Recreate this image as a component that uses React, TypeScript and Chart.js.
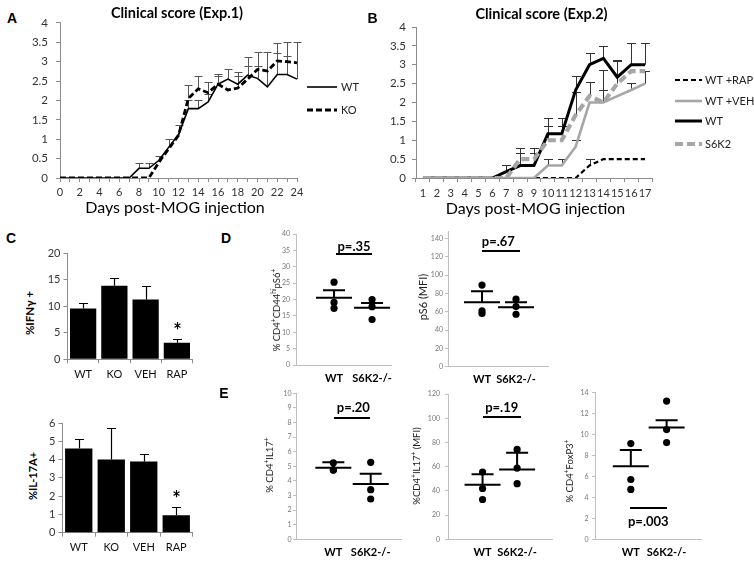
import React, { useEffect, useRef } from 'react';
import { Chart, registerables } from 'chart.js';
Chart.register(...registerables);

const FONT = 'Lato, "Open Sans", sans-serif';
Chart.defaults.font.family = FONT;

// ---------- Panel A: Clinical score (Exp.1) ----------
const daysA = ['0','1','2','3','4','5','6','7','8','9','10','11','12','13','14','15','16','17','18','19','20','21','22','23','24'];
const wtA = [0,0,0,0,0,0,0,0,0.25,0.25,0.45,0.79,1.12,1.79,1.79,1.96,2.42,2.55,2.42,2.65,2.57,2.35,2.67,2.67,2.55];
const koA = [0,0,0,0,0,0,0,0,0,0,0.4,0.75,1.1,2.05,2.3,2.2,2.42,2.27,2.32,2.55,2.8,2.76,3.02,3.0,2.97];
const wtErrA = [0,0,0,0,0,0,0,0,0.13,0.13,0.13,0.21,0.25,0.23,0.23,0.21,0.25,0.25,0.21,0.25,0.31,0.9,0.82,0.85,0.95];
const koErrA = [0,0,0,0,0,0,0,0,0,0,0,0,0,0.36,0.33,0.28,0.22,0,0.41,0.56,0.46,0,0.2,0.15,0];

// ---------- Panel B: Clinical score (Exp.2) ----------
const daysB = ['1','2','3','4','5','6','7','8','9','10','11','12','13','14','15','16','17'];
const rapB = [0,0,0,0,0,0,0,0,0,0,0,0,0.33,0.5,0.5,0.5,0.5];
const vehB = [0,0,0,0,0,0,0,0,0,0.33,0.33,0.83,2.0,2.0,2.17,2.33,2.5];
const wtB = [0,0,0,0,0,0,0.17,0.33,0.33,1.17,1.17,2.33,3.0,3.17,2.67,3.0,3.0];
const s6k2B = [0,0,0,0,0,0,0,0.5,0.5,1.0,1.0,1.67,2.17,2.0,2.5,2.83,2.83];
const rapErrB = [0,0,0,0,0,0,0,0,0,0,0,0,0.17,0,0,0,0];
const vehErrB = [0,0,0,0,0,0,0,0,0,0.17,0.17,0.17,0,0.32,0,0.19,0.33];
const wtErrB = [0,0,0,0,0,0,0.17,0.33,0.33,0.42,0.42,0.37,0.31,0.33,0.46,0.58,0.58];
const s6k2ErrB = [0,0,0,0,0,0,0,0.29,0.29,0.37,0.37,0.6,0.38,0.87,0.6,0,0];

// ---------- Panel C: bars ----------
const cCats = ['WT','KO','VEH','RAP'];
const ifng = [9.6, 13.9, 11.3, 3.1];
const ifngErr = [1.1, 1.5, 2.6, 0.7];
const il17 = [4.6, 4.0, 3.9, 0.95];
const il17Err = [0.55, 1.7, 0.4, 0.45];
const starred = [false, false, false, true];

// ---------- Panels D / E: dot plots ----------
const groups = ['WT', 'S6K2-/-'];
const d1Wt = [25.3, 19.1, 17.3];
const d1Ko = [20.0, 17.8, 13.9];
const d1Mean = [20.5, 17.5];
const d1Sem = [2.3, 1.4];
const d2Wt = [89, 61, 58];
const d2Ko = [73.6, 65.6, 57.2];
const d2Mean = [70.4, 64.9];
const d2Sem = [12, 5.5];
const e1Wt = [5.24, 4.74, 4.75];
const e1Ko = [5.27, 3.4, 2.76];
const e1Mean = [4.9, 3.79];
const e1Sem = [0.38, 0.7];
const e2Wt = [55.6, 42, 32.9];
const e2Ko = [74.3, 58.9, 46];
const e2Mean = [45.2, 57.8];
const e2Sem = [8.5, 13.8];
const e3Wt = [9.14, 5.71, 4.76];
const e3Ko = [13.2, 10.48, 9.24];
const e3Mean = [6.98, 10.67];
const e3Sem = [1.55, 0.69];

type Rect = { L: number; T: number; W: number; H: number };
type Plot = { l: number; t: number; r: number; b: number };

function lay(c: Rect, p: Plot) {
  return {
    padding: { top: p.t - c.T, right: c.L + c.W - p.r, left: 0, bottom: 0 },
    yW: p.l - c.L,
    xH: c.T + c.H - p.b,
  };
}

const plainNum = (v: any) => String(Math.round(Number(v) * 1000) / 1000);

function errorBars(sets: { i: number; err: number[]; color: string; cap: number; width: number }[], before: boolean, stars?: boolean[]) {
  const draw = (chart: any) => {
    const ctx = chart.ctx;
    const y = chart.scales.y;
    sets.forEach((s) => {
      const meta = chart.getDatasetMeta(s.i);
      const data = chart.data.datasets[s.i].data as number[];
      ctx.save();
      ctx.strokeStyle = s.color;
      ctx.lineWidth = s.width;
      meta.data.forEach((el: any, j: number) => {
        const e = s.err[j];
        if (!e) return;
        const x = Math.round(el.x) + 0.5;
        const y0 = y.getPixelForValue(data[j]);
        const y1 = Math.round(y.getPixelForValue(data[j] + e)) + 0.5;
        ctx.beginPath();
        ctx.moveTo(x, y0);
        ctx.lineTo(x, y1);
        ctx.moveTo(x - s.cap, y1);
        ctx.lineTo(x + s.cap, y1);
        ctx.stroke();
        if (stars && stars[j]) {
          ctx.fillStyle = '#000';
          ctx.font = 'bold 20px ' + FONT;
          ctx.textAlign = 'center';
          ctx.textBaseline = 'middle';
          ctx.fillText('*', x, y1 - 8);
        }
      });
      ctx.restore();
    });
  };
  return before
    ? { id: 'errorBars', beforeDatasetsDraw: draw }
    : { id: 'errorBars', afterDatasetsDraw: draw };
}

function sideLegend(items: { i: number; y: number }[], x0: number, x1: number, tx: number) {
  return {
    id: 'sideLegend',
    afterDraw(chart: any) {
      const ctx = chart.ctx;
      items.forEach((it) => {
        const ds = chart.data.datasets[it.i];
        ctx.save();
        ctx.strokeStyle = ds.borderColor;
        ctx.lineWidth = ds.borderWidth;
        ctx.setLineDash(ds.borderDash || []);
        ctx.beginPath();
        ctx.moveTo(x0, it.y);
        ctx.lineTo(x1, it.y);
        ctx.stroke();
        ctx.setLineDash([]);
        ctx.fillStyle = '#222';
        ctx.font = '11px ' + FONT;
        ctx.textBaseline = 'middle';
        ctx.fillText(ds.label, tx, it.y);
        ctx.restore();
      });
    },
  };
}

function meanSem(means: number[], sems: number[]) {
  return {
    id: 'meanSem',
    afterDatasetsDraw(chart: any) {
      const { ctx } = chart;
      const x = chart.scales.x;
      const y = chart.scales.y;
      ctx.save();
      ctx.strokeStyle = '#000';
      ctx.lineWidth = 2;
      means.forEach((m, i) => {
        const cx = x.getPixelForValue(i + 1);
        const ym = y.getPixelForValue(m);
        const ys = y.getPixelForValue(m + sems[i]);
        ctx.beginPath();
        ctx.moveTo(cx - 18, ym);
        ctx.lineTo(cx + 18, ym);
        ctx.moveTo(cx, ym);
        ctx.lineTo(cx, ys);
        ctx.moveTo(cx - 11, ys);
        ctx.lineTo(cx + 11, ys);
        ctx.stroke();
      });
      ctx.restore();
    },
  };
}

const baseOpts = (L: any) => ({
  responsive: false,
  animation: false,
  layout: { padding: L.padding },
  plugins: { legend: { display: false }, tooltip: { enabled: false }, title: { display: false } },
});

// ---------- rects ----------
const rA: Rect = { L: 20, T: 8, W: 360, H: 192 };
const pA: Plot = { l: 60, t: 19, r: 297, b: 178 };
const rB: Rect = { L: 380, T: 10, W: 374, H: 190 };
const pB: Plot = { l: 416, t: 27, r: 652, b: 178 };
const rC1: Rect = { L: 40, T: 243, W: 160, H: 142 };
const pC1: Plot = { l: 67.5, t: 253.3, r: 192.5, b: 359.3 };
const rC2: Rect = { L: 40, T: 413, W: 160, H: 150 };
const pC2: Plot = { l: 62.5, t: 423, r: 192.5, b: 532.7 };
const rD1: Rect = { L: 270, T: 226, W: 130, H: 164 };
const pD1: Plot = { l: 296, t: 234, r: 393, b: 365 };
const rD2: Rect = { L: 420, T: 222, W: 135, H: 170 };
const pD2: Plot = { l: 448, t: 231, r: 548, b: 366.7 };
const rE1: Rect = { L: 270, T: 385, W: 140, H: 178 };
const pE1: Plot = { l: 296, t: 393.3, r: 401.7, b: 539.3 };
const rE2: Rect = { L: 420, T: 385, W: 140, H: 178 };
const pE2: Plot = { l: 448, t: 393.5, r: 552.7, b: 539.3 };
const rE3: Rect = { L: 570, T: 385, W: 140, H: 178 };
const pE3: Plot = { l: 595, t: 392.3, r: 701.7, b: 539.3 };

const AX = '#8c8c8c';
const TICK = '#333';

function configA() {
  const L = lay(rA, pA);
  return {
    type: 'line',
    data: {
      labels: daysA,
      datasets: [
        { label: 'WT', data: wtA, borderColor: '#000', borderWidth: 1.6, pointRadius: 0, order: 1 },
        { label: 'KO', data: koA, borderColor: '#000', borderWidth: 2.8, borderDash: [6, 3], pointRadius: 0, order: 0 },
      ],
    },
    options: {
      ...baseOpts(L),
      scales: {
        x: {
          type: 'category', offset: false,
          grid: { drawOnChartArea: false, tickLength: 4, color: AX, offset: false },
          border: { color: AX },
          ticks: { autoSkip: false, maxRotation: 0, padding: 4, color: TICK, font: { size: 11 }, callback: (_v: any, i: number) => (i % 2 === 0 ? daysA[i] : '') },
          afterFit: (s: any) => { s.height = L.xH; },
        },
        y: {
          min: 0, max: 4,
          ticks: { stepSize: 0.5, padding: 8, color: TICK, font: { size: 11.5 }, callback: plainNum },
          grid: { drawOnChartArea: false, tickLength: 4, color: AX },
          border: { color: AX },
          afterFit: (s: any) => { s.width = L.yW; },
        },
      },
    },
    plugins: [
      errorBars([
        { i: 0, err: wtErrA, color: '#555', cap: 4, width: 1 },
        { i: 1, err: koErrA, color: '#555', cap: 4, width: 1 },
      ], true),
      sideLegend([{ i: 0, y: 87 - rA.T }, { i: 1, y: 110 - rA.T }], 307 - rA.L, 337 - rA.L, 341 - rA.L),
    ],
  };
}

function configB() {
  const L = lay(rB, pB);
  return {
    type: 'line',
    data: {
      labels: daysB,
      datasets: [
        { label: 'WT +RAP', data: rapB, borderColor: '#000', borderWidth: 2.2, borderDash: [5, 3], pointRadius: 0, order: 3 },
        { label: 'WT +VEH', data: vehB, borderColor: '#a6a6a6', borderWidth: 2.6, pointRadius: 0, order: 1 },
        { label: 'WT', data: wtB, borderColor: '#000', borderWidth: 3, pointRadius: 0, order: 2 },
        { label: 'S6K2', data: s6k2B, borderColor: '#a6a6a6', borderWidth: 4.2, borderDash: [8, 4], pointRadius: 0, order: 0 },
      ],
    },
    options: {
      ...baseOpts(L),
      scales: {
        x: {
          type: 'category', offset: true,
          grid: { drawOnChartArea: false, tickLength: 4, color: AX, offset: true },
          border: { color: AX },
          ticks: { autoSkip: false, maxRotation: 0, padding: 5, color: TICK, font: { size: 11 } },
          afterFit: (s: any) => { s.height = L.xH; },
        },
        y: {
          min: 0, max: 4,
          ticks: { stepSize: 0.5, padding: 6, color: TICK, font: { size: 11.5 }, callback: plainNum },
          grid: { drawOnChartArea: false, tickLength: 4, color: AX },
          border: { color: AX },
          afterFit: (s: any) => { s.width = L.yW; },
        },
      },
    },
    plugins: [
      errorBars([
        { i: 0, err: rapErrB, color: '#333', cap: 4.5, width: 1 },
        { i: 1, err: vehErrB, color: '#333', cap: 4.5, width: 1 },
        { i: 2, err: wtErrB, color: '#333', cap: 4.5, width: 1 },
        { i: 3, err: s6k2ErrB, color: '#333', cap: 4.5, width: 1 },
      ], true),
      sideLegend(
        [{ i: 0, y: 80 - rB.T }, { i: 1, y: 101 - rB.T }, { i: 2, y: 121 - rB.T }, { i: 3, y: 144 - rB.T }],
        675 - rB.L, 702 - rB.L, 705 - rB.L
      ),
    ],
  };
}

function configBar(r: Rect, p: Plot, values: number[], errs: number[], max: number, step: number, xPad: number) {
  const L = lay(r, p);
  return {
    type: 'bar',
    data: {
      labels: cCats,
      datasets: [{ data: values, backgroundColor: '#000', barPercentage: 0.84, categoryPercentage: 1.0 }],
    },
    options: {
      ...baseOpts(L),
      scales: {
        x: {
          grid: { drawOnChartArea: false, tickLength: 4, color: AX, offset: true },
          border: { color: AX },
          ticks: { autoSkip: false, maxRotation: 0, padding: xPad, color: '#111', font: { size: 11 } },
          afterFit: (s: any) => { s.height = L.xH; },
        },
        y: {
          min: 0, max,
          ticks: { stepSize: step, padding: 3, color: '#333', font: { size: 11 }, callback: plainNum },
          grid: { drawOnChartArea: false, tickLength: 4, color: AX },
          border: { color: AX },
          afterFit: (s: any) => { s.width = L.yW; },
        },
      },
    },
    plugins: [errorBars([{ i: 0, err: errs, color: '#000', cap: 4.5, width: 1.2 }], false, starred)],
  };
}

function configDot(r: Rect, p: Plot, wt: number[], ko: number[], means: number[], sems: number[], yMax: number, yStep: number, xMax: number, xPad: number, yPad: number) {
  const L = lay(r, p);
  return {
    type: 'scatter',
    data: {
      datasets: [
        { data: wt.map((v) => ({ x: 1, y: v })), backgroundColor: '#000', borderColor: '#000', borderWidth: 0, pointRadius: 3.6 },
        { data: ko.map((v) => ({ x: 2, y: v })), backgroundColor: '#000', borderColor: '#000', borderWidth: 0, pointRadius: 3.6 },
      ],
    },
    options: {
      ...baseOpts(L),
      scales: {
        x: {
          type: 'linear', min: 0, max: xMax,
          afterBuildTicks: (s: any) => { s.ticks = groups.map((_g, i) => ({ value: i + 1 })); },
          ticks: { autoSkip: false, maxRotation: 0, padding: xPad, color: '#000', font: { size: 11, weight: 'bold' }, callback: (_v: any, i: number) => groups[i] },
          grid: { display: false, drawTicks: false },
          border: { color: '#bfbfbf' },
          afterFit: (s: any) => { s.height = L.xH; },
        },
        y: {
          min: 0, max: yMax,
          ticks: { stepSize: yStep, includeBounds: false, padding: yPad, color: '#777', font: { size: 7 }, callback: plainNum },
          grid: { drawOnChartArea: false, tickLength: 3, color: '#bfbfbf' },
          border: { color: '#bfbfbf' },
          afterFit: (s: any) => { s.width = L.yW; },
        },
      },
    },
    plugins: [meanSem(means, sems)],
  };
}

function ChartCanvas({ rect, make }: { rect: Rect; make: () => any }) {
  const ref = useRef<HTMLCanvasElement>(null);
  useEffect(() => {
    const chart = new Chart(ref.current as HTMLCanvasElement, make());
    return () => chart.destroy();
  }, []);
  return (
    <canvas
      ref={ref}
      width={rect.W}
      height={rect.H}
      style={{ position: 'absolute', left: rect.L, top: rect.T, width: rect.W, height: rect.H }}
    />
  );
}

function Txt({ x, y, size, bold, rot, font, color, children }: any) {
  return (
    <div
      style={{
        position: 'absolute', left: x, top: y,
        transform: `translate(-50%,-50%)${rot ? ' rotate(-90deg)' : ''}`,
        fontSize: size, fontWeight: bold ? 700 : 400, fontFamily: font || FONT,
        color: color || '#000', whiteSpace: 'nowrap', lineHeight: 1,
      }}
    >
      {children}
    </div>
  );
}

function HLine({ x0, x1, y, h }: any) {
  return <div style={{ position: 'absolute', left: x0, top: y - (h || 2) / 2, width: x1 - x0, height: h || 2, background: '#000' }} />;
}

const LETTER = '"Liberation Sans", Arial, sans-serif';
const supS = { fontSize: '0.7em', verticalAlign: 'super', lineHeight: 0 } as any;

export default function App() {
  return (
    <div style={{ position: 'fixed', left: 0, top: 0, width: 754, height: 566, background: '#fff', overflow: 'hidden' }}>
      <ChartCanvas rect={rA} make={configA} />
      <ChartCanvas rect={rB} make={configB} />
      <ChartCanvas rect={rC1} make={() => configBar(rC1, pC1, ifng, ifngErr, 20, 5, 4.4)} />
      <ChartCanvas rect={rC2} make={() => configBar(rC2, pC2, il17, il17Err, 6, 1, 3.7)} />
      <ChartCanvas rect={rD1} make={() => configDot(rD1, pD1, d1Wt, d1Ko, d1Mean, d1Sem, 40, 5, 2.5, 6.7, 3)} />
      <ChartCanvas rect={rD2} make={() => configDot(rD2, pD2, d2Wt, d2Ko, d2Mean, d2Sem, 148, 20, 2.94, 5.7, 2)} />
      <ChartCanvas rect={rE1} make={() => configDot(rE1, pE1, e1Wt, e1Ko, e1Mean, e1Sem, 10, 1, 2.83, 7, 1.5)} />
      <ChartCanvas rect={rE2} make={() => configDot(rE2, pE2, e2Wt, e2Ko, e2Mean, e2Sem, 120, 20, 3.03, 7, 5)} />
      <ChartCanvas rect={rE3} make={() => configDot(rE3, pE3, e3Wt, e3Ko, e3Mean, e3Sem, 14, 2, 2.98, 6.8, 3.5)} />

      {/* Panel letters */}
      <Txt x={12} y={18} size={14} bold font={LETTER}>A</Txt>
      <Txt x={372.5} y={18} size={14} bold font={LETTER}>B</Txt>
      <Txt x={11} y={238} size={14} bold font={LETTER}>C</Txt>
      <Txt x={226} y={238} size={14} bold font={LETTER}>D</Txt>
      <Txt x={224} y={393} size={14} bold font={LETTER}>E</Txt>

      {/* Titles */}
      <Txt x={177} y={13} size={14.5} bold>Clinical score (Exp.1)</Txt>
      <Txt x={541.5} y={14} size={14.5} bold>Clinical score (Exp.2)</Txt>
      <Txt x={175} y={207} size={16}>Days post-MOG injection</Txt>
      <Txt x={535.5} y={208} size={16}>Days post-MOG injection</Txt>

      {/* C axis titles */}
      <Txt x={30} y={313} size={11.5} bold rot>%IFNγ +</Txt>
      <Txt x={32} y={476} size={11} bold rot>%IL-17A+</Txt>

      {/* D/E axis titles */}
      <Txt x={277} y={310} size={9.5} rot color="#222">% CD4<span style={supS}>+</span>CD44<span style={supS}>hi</span>pS6<span style={supS}>+</span></Txt>
      <Txt x={422} y={297} size={11} rot color="#222">pS6 (MFI)</Txt>
      <Txt x={270} y={465} size={9.5} rot color="#222">% CD4<span style={supS}>+</span>IL17<span style={supS}>+</span></Txt>
      <Txt x={416.7} y={466} size={9.5} rot color="#222">%CD4<span style={supS}>+</span>IL17<span style={supS}>+</span> (MFI)</Txt>
      <Txt x={570} y={471} size={9.5} rot color="#222">% CD4<span style={supS}>+</span>FoxP3<span style={supS}>+</span></Txt>

      {/* p-values */}
      <Txt x={354} y={245.7} size={13} bold>p=.35</Txt>
      <HLine x0={336} x1={371.7} y={254.3} />
      <Txt x={498.3} y={240.7} size={13} bold>p=.67</Txt>
      <HLine x0={481.7} x1={520} y={251} />
      <Txt x={353.3} y={406.7} size={13} bold>p=.20</Txt>
      <HLine x0={334.3} x1={370} y={417.7} />
      <Txt x={501.7} y={406.7} size={13} bold>p=.19</Txt>
      <HLine x0={483.3} x1={520.7} y={416.7} />
      <HLine x0={630} x1={667.3} y={508.3} />
      <Txt x={648.3} y={520.7} size={13} bold>p=.003</Txt>
    </div>
  );
}
